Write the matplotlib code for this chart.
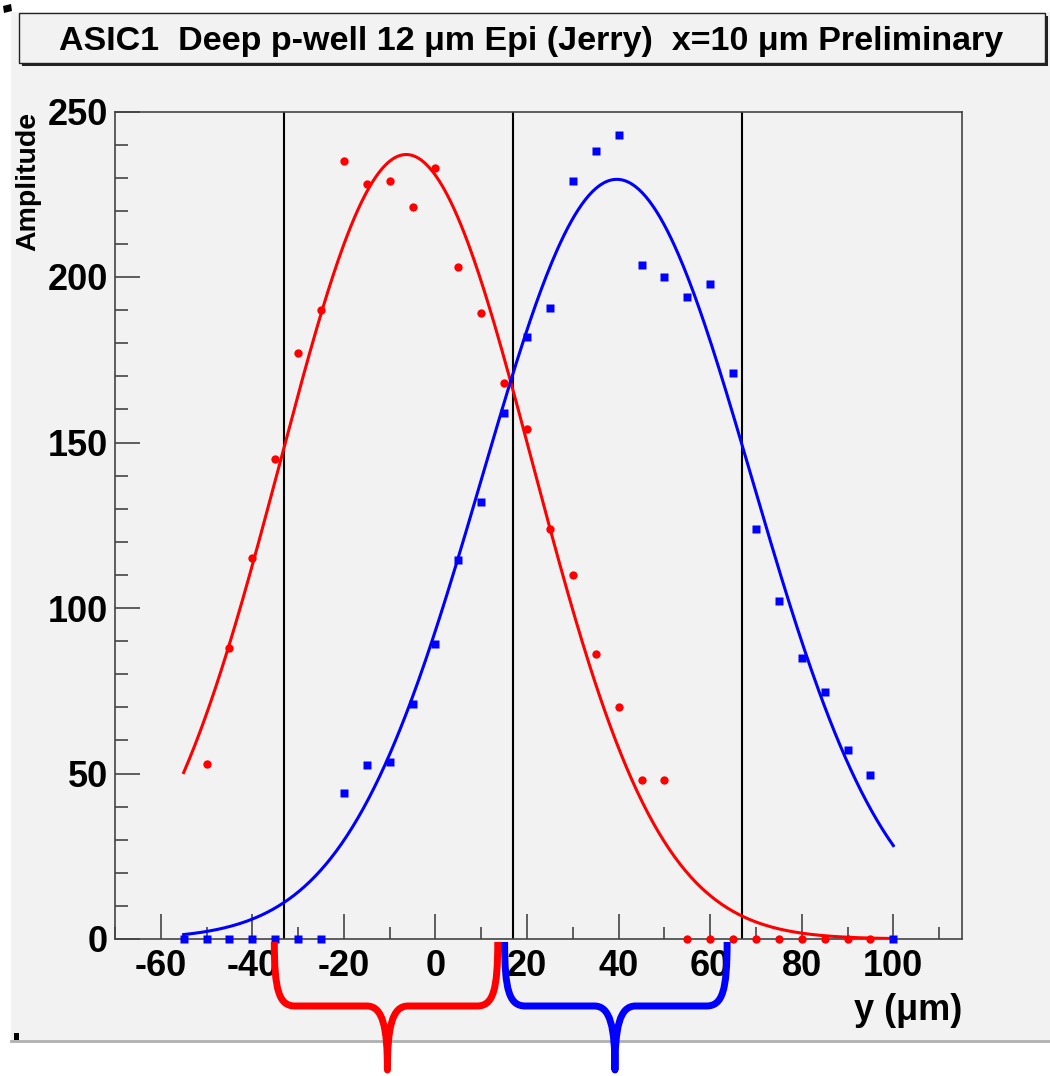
import numpy as np
import matplotlib
matplotlib.use("Agg")
import matplotlib.pyplot as plt
from matplotlib.patches import Rectangle, PathPatch, Polygon
from matplotlib.path import Path
from matplotlib.lines import Line2D
import matplotlib.transforms as mtransforms

plt.rcParams['font.family'] = ['Liberation Sans', 'DejaVu Sans']
plt.rcParams['font.weight'] = 'bold'
plt.rcParams['axes.unicode_minus'] = False

# red pad (circles)
red_y = [-50, -45, -40, -35, -30, -25, -20, -15, -10, -5, 0, 5, 10, 15, 20,
         25, 30, 35, 40, 45, 50, 55, 60, 65, 70, 75, 80, 85, 90, 95]
red_amp = [53, 88, 115, 145, 177, 190, 235, 228, 229, 221, 233, 203, 189, 168, 154,
           124, 110, 86, 70, 48, 48, 0, 0, 0, 0, 0, 0, 0, 0, 0]

# blue pad (squares)
blue_y = [-55, -50, -45, -40, -35, -30, -25, -20, -15, -10, -5, 0, 5, 10, 15, 20,
          25, 30, 35, 40, 45, 50, 55, 60, 65, 70, 75, 80, 85, 90, 95, 100]
blue_amp = [0, 0, 0, 0, 0, 0, 0, 44, 52.5, 53.5, 71, 89, 114.5, 132, 159, 182,
            190.5, 229, 238, 243, 203.5, 200, 194, 198, 171, 124, 102, 85, 74.5, 57, 49.5, 0]

# gaussian fit parameters (constant, mean, sigma) and fit range
red_fit = (237.0, -6.4, 27.6)
blue_fit = (229.5, 39.6, 29.5)
fit_range = (-55, 100)

# pad boundaries
boundaries = [-33, 17, 67]

# braces under the axis: (start, centre, end) in y
red_brace = (-35.2, -10.5, 13.6)
blue_brace = (15.1, 39.2, 63.7)

W, H = 1050, 1076
fig = plt.figure(figsize=(W / 100, H / 100), dpi=100)
fig.patch.set_facecolor('white')

# canvas background
fig.add_artist(Rectangle((11 / W, 1 - 1041 / H), (W - 11) / W, (1041 - 12) / H,
                         transform=fig.transFigure, facecolor='#f2f2f2',
                         edgecolor='none', zorder=-10))
fig.add_artist(Line2D([11 / W, 1], [1 - 1041 / H, 1 - 1041 / H],
                      transform=fig.transFigure, color='#b0b0b0', lw=2))

# title box with shadow
fig.add_artist(Rectangle((22 / W, 1 - 66 / H), (1048 - 22) / W, (66 - 16) / H,
                         transform=fig.transFigure, facecolor='#222222',
                         edgecolor='none', zorder=1))
fig.add_artist(Rectangle((19 / W, 1 - 63 / H), (1045 - 19) / W, (63 - 13) / H,
                         transform=fig.transFigure, facecolor='#f2f2f2',
                         edgecolor='#222222', lw=1.0, zorder=2))
fig.text(531 / W, 1 - 50 / H,
         'ASIC1  Deep p-well 12 \u03bcm Epi (Jerry)  x=10 \u03bcm Preliminary',
         ha='center', va='baseline', fontsize=24.5, fontweight='bold', zorder=3)

# small scan marks
fig.add_artist(Polygon([[3 / W, 1 - 6 / H], [11 / W, 1 - 4 / H], [12 / W, 1 - 11 / H],
                        [4 / W, 1 - 13 / H]], closed=True, transform=fig.transFigure,
                       facecolor='black', edgecolor='none'))
fig.add_artist(Rectangle((14 / W, 1 - 1040 / H), 5 / W, 7 / H,
                         transform=fig.transFigure, facecolor='black', edgecolor='none'))

ax = fig.add_axes([115 / W, 1 - 939 / H, (962 - 115) / W, (939 - 111.5) / H])
ax.set_facecolor('#f2f2f2')
ax.set_xlim(-70, 115)
ax.set_ylim(0, 250)

ax.set_xticks(np.arange(-60, 101, 20))
ax.set_xticks(np.arange(-70, 115, 10), minor=True)
ax.set_yticks(np.arange(0, 251, 50))
ax.set_yticks(np.arange(0, 251, 10), minor=True)
ax.tick_params(which='both', direction='in', top=False, right=False,
               color='#444444', width=1.2)
ax.tick_params(which='major', length=18, labelsize=26)
ax.tick_params(which='minor', length=9)
ax.tick_params(axis='y', which='major', pad=5)
ax.tick_params(axis='x', which='major', pad=7)
for lab in ax.get_xticklabels() + ax.get_yticklabels():
    lab.set_fontweight('bold')
for sp in ax.spines.values():
    sp.set_color('#444444')
    sp.set_linewidth(1.2)

for b in boundaries:
    ax.axvline(b, color='black', lw=1.5, zorder=2)

xs = np.linspace(fit_range[0], fit_range[1], 400)
for (c, m, s), col in [(red_fit, '#ff0000'), (blue_fit, '#0000ff')]:
    ax.plot(xs, c * np.exp(-0.5 * ((xs - m) / s) ** 2), color=col, lw=2.2, zorder=3)

ax.plot(red_y, red_amp, 'o', color='#ff0000', ms=6, mec='none', clip_on=False, zorder=4)
ax.plot(blue_y, blue_amp, 's', color='#0000ff', ms=6.2, mec='none', clip_on=False, zorder=4)

fig.text(28 / W, 1 - 112 / H, 'Amplitude', rotation=90, ha='center', va='top',
         fontsize=20.5, fontweight='bold')
fig.text(962 / W, 1 - 1010 / H, 'y (\u03bcm)', ha='right', va='center',
         fontsize=26, fontweight='bold')

# curly braces below the axis
trans = mtransforms.blended_transform_factory(ax.transData, fig.transFigure)
ytop, ymid, ybot = 1 - 942 / H, 1 - 1006 / H, 1 - 1070 / H
for (x0, xc, x1), col in [(red_brace, '#ff0000'), (blue_brace, '#0000ff')]:
    verts = [(x0, ytop),
             (x0, ymid + 0.015), (x0 + 1.0, ymid), (x0 + 4.5, ymid),
             (xc - 4.5, ymid),
             (xc - 1.0, ymid), (xc, ymid - 0.02), (xc, ybot),
             (xc, ymid - 0.02), (xc + 1.0, ymid), (xc + 4.5, ymid),
             (x1 - 4.5, ymid),
             (x1 - 1.0, ymid), (x1, ymid + 0.015), (x1, ytop)]
    codes = [Path.MOVETO,
             Path.CURVE4, Path.CURVE4, Path.CURVE4,
             Path.LINETO,
             Path.CURVE4, Path.CURVE4, Path.CURVE4,
             Path.CURVE4, Path.CURVE4, Path.CURVE4,
             Path.LINETO,
             Path.CURVE4, Path.CURVE4, Path.CURVE4]
    fig.add_artist(PathPatch(Path(verts, codes), transform=trans, fill=False,
                             edgecolor=col, lw=5, capstyle='butt', joinstyle='round',
                             zorder=5))

fig.savefig('out.png', dpi=100)
